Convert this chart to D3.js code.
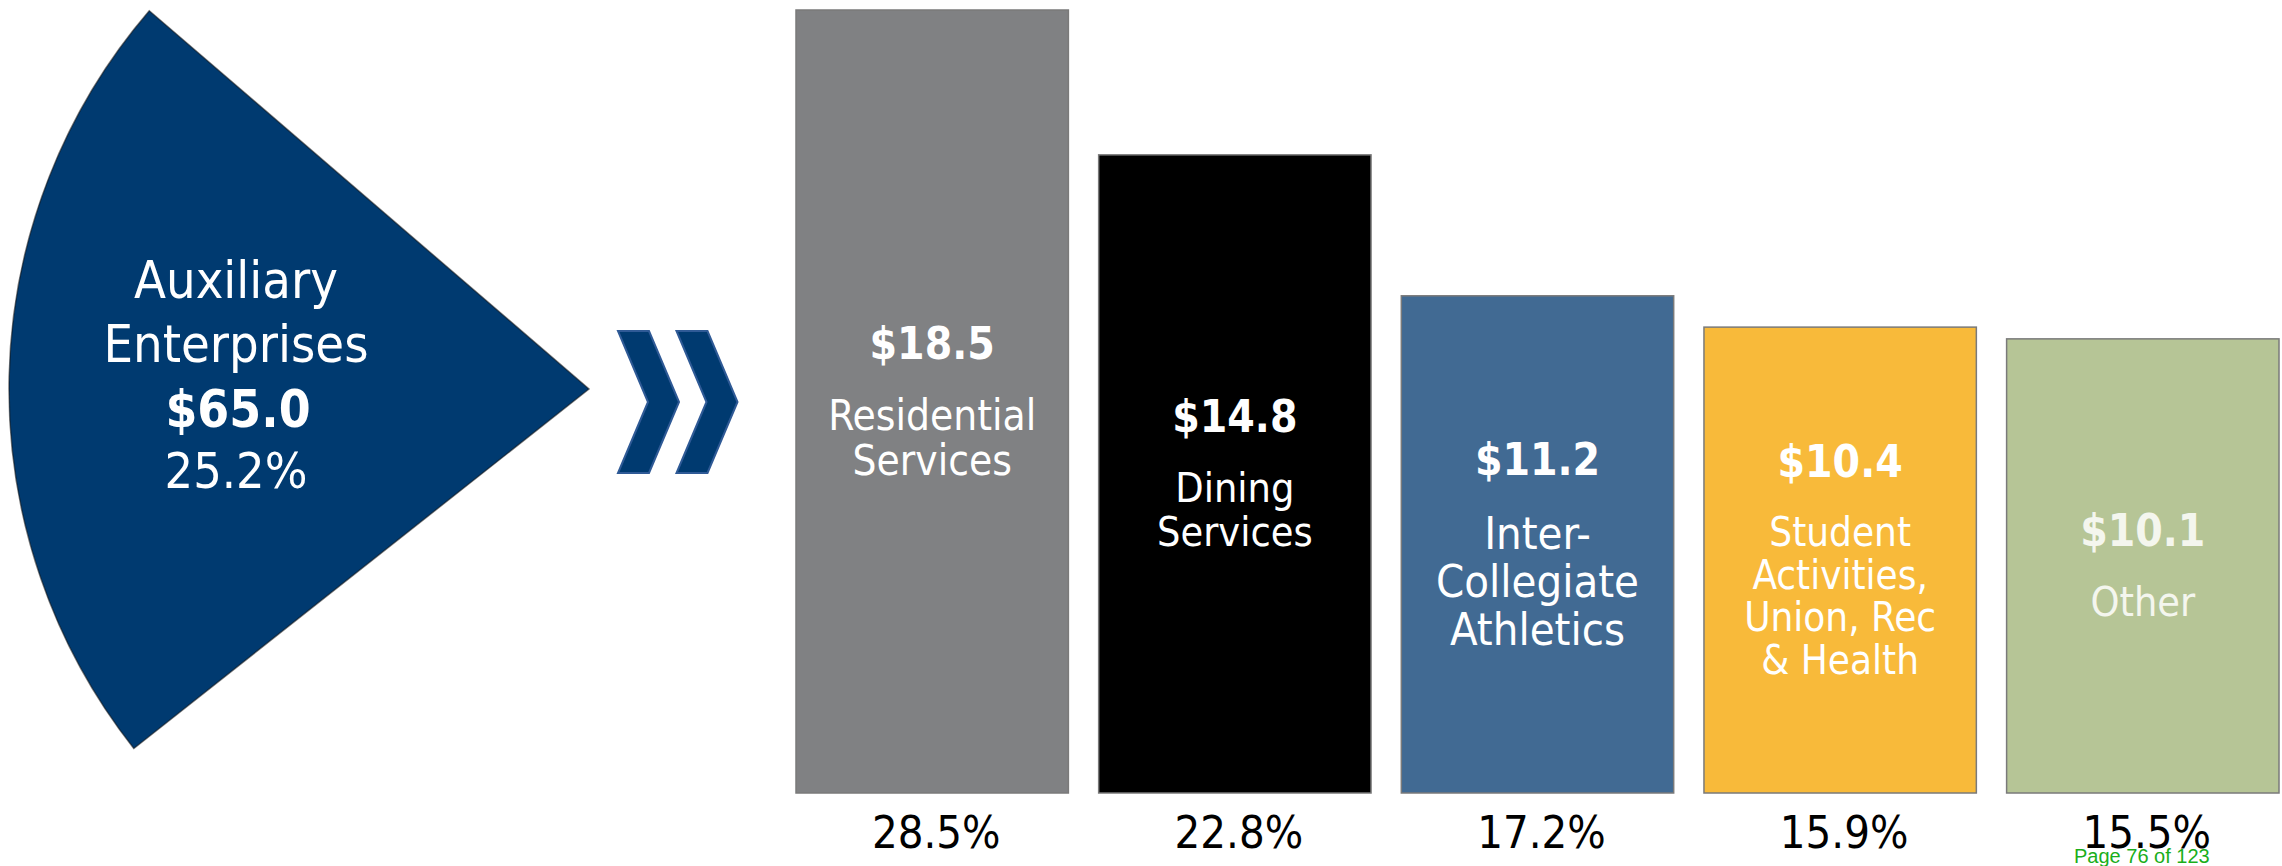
<!DOCTYPE html>
<html>
<head>
<meta charset="utf-8">
<title>Auxiliary Enterprises</title>
<script src="https://d3js.org/d3.v7.min.js"></script>
<style>
  html, body { margin: 0; padding: 0; background: #fff; }
  svg { display: block; }
  .lbl { font-family: "DejaVu Sans Condensed", "DejaVu Sans", sans-serif; font-stretch: condensed; fill: #fff; text-anchor: middle; }
  .pct { font-family: "DejaVu Sans Condensed", "DejaVu Sans", sans-serif; font-stretch: condensed; fill: #000; text-anchor: middle; }
</style>
</head>
<body>
<svg width="2282" height="866"></svg>
<script>
// data
var totalName = ["Auxiliary", "Enterprises"];
var totalAmount = 65.0;
var totalShare = 25.2;

var nameLines = [
  ["Residential", "Services"],
  ["Dining", "Services"],
  ["Inter-", "Collegiate", "Athletics"],
  ["Student", "Activities,", "Union, Rec", "& Health"],
  ["Other"]
];
var amounts = [18.5, 14.8, 11.2, 10.4, 10.1];
var shares = [28.5, 22.8, 17.2, 15.9, 15.5];

var pageNote = "Page 76 of 123";

// styles
var barColors = ["#808183", "#000000", "#416a93", "#f8ba3a", "#b6c596"];
var nameSizes = [42, 41, 45, 40, 41];
var navy = "#003a70";

var svg = d3.select("svg"),
    width = +svg.attr("width"),
    height = +svg.attr("height");

var baseY = 793;

// ---- wedge on the left ----
var deg = Math.PI / 180;
var arc = d3.arc()
    .innerRadius(0)
    .outerRadius(580)
    .startAngle(-128.3 * deg)
    .endAngle(-49.3 * deg);

svg.append("g")
    .attr("transform", "translate(589,389)")
  .append("path")
    .attr("d", arc())
    .attr("fill", navy)
    .attr("stroke", "#111")
    .attr("stroke-opacity", 0.55)
    .attr("stroke-width", 1.5);

var fmt = d3.format(".1f");

var wt = svg.append("g").attr("class", "lbl");
wt.selectAll("text.nm")
  .data(totalName)
  .enter().append("text")
    .attr("class", "nm")
    .attr("x", 236)
    .attr("y", function(d, i) { return 298 + i * 64; })
    .attr("font-size", 52)
    .text(function(d) { return d; });
wt.append("text")
    .attr("x", 238)
    .attr("y", 427)
    .attr("font-size", 51)
    .attr("font-weight", "bold")
    .text("$" + fmt(totalAmount));
wt.append("text")
    .attr("x", 236)
    .attr("y", 488)
    .attr("font-size", 50)
    .text(fmt(totalShare) + "%");

// ---- double chevron ----
function chevron(x0, y0, w, h, depth) {
  return [[x0, y0], [x0 + w, y0], [x0 + w + depth, y0 + h / 2],
          [x0 + w, y0 + h], [x0, y0 + h], [x0 + depth, y0 + h / 2]];
}
svg.append("g").selectAll("polygon")
  .data([0, 1])
  .enter().append("polygon")
    .attr("points", function(d) {
      return chevron(618 + d * 58.5, 331, 31, 142, 30).map(function(p) { return p.join(","); }).join(" ");
    })
    .attr("fill", navy)
    .attr("stroke", "#2f5a96")
    .attr("stroke-width", 2);

// ---- bars ----
var x = d3.scaleBand()
    .domain(d3.range(amounts.length))
    .range([796, 2279])
    .paddingInner(0.1)
    .paddingOuter(0);

var y = d3.scaleLinear()
    .domain([-1.5, 18.5])
    .range([baseY, 10]);

var bars = svg.append("g").selectAll("g")
  .data(amounts)
  .enter().append("g");

bars.append("rect")
    .attr("x", function(d, i) { return x(i); })
    .attr("y", function(d) { return y(d); })
    .attr("width", x.bandwidth())
    .attr("height", function(d) { return baseY - y(d); })
    .attr("fill", function(d, i) { return barColors[i]; })
    .attr("stroke", "#7a7a7a")
    .attr("stroke-width", 1.5);

// labels inside bars, block centred vertically in the bar
bars.each(function(d, i) {
  var g = d3.select(this).append("g").attr("class", "lbl");
  var cx = x(i) + x.bandwidth() / 2;
  var ns = nameSizes[i];
  var lh = ns * 1.07;
  var gap = ns + 29;
  var n = nameLines[i].length;
  var mid = (y(d) + baseY) / 2;
  var vy = mid - (gap + (n - 1) * lh - 31) / 2;
  var tc = i === 4 ? "#f4f6ee" : "#fff";

  g.append("text")
      .attr("x", cx)
      .attr("y", vy)
      .attr("font-size", 44)
      .attr("font-weight", "bold")
      .style("fill", tc)
      .text("$" + fmt(d));

  g.selectAll("text.nm")
    .data(nameLines[i])
    .enter().append("text")
      .attr("class", "nm")
      .attr("x", cx)
      .attr("y", function(t, k) { return vy + gap + k * lh; })
      .attr("font-size", ns)
      .style("fill", tc)
      .text(function(t) { return t; });
});

// percentage under each bar
svg.append("g").selectAll("text")
  .data(shares)
  .enter().append("text")
    .attr("class", "pct")
    .attr("x", function(d, i) { return x(i) + x.bandwidth() / 2 + 4; })
    .attr("y", 848)
    .attr("font-size", 45)
    .text(function(d) { return fmt(d) + "%"; });

svg.append("text")
    .attr("x", 2074)
    .attr("y", 863)
    .attr("font-family", "'Liberation Sans', Arial, sans-serif")
    .attr("font-size", 20)
    .attr("fill", "#1aae1a")
    .text(pageNote);
</script>
</body>
</html>
